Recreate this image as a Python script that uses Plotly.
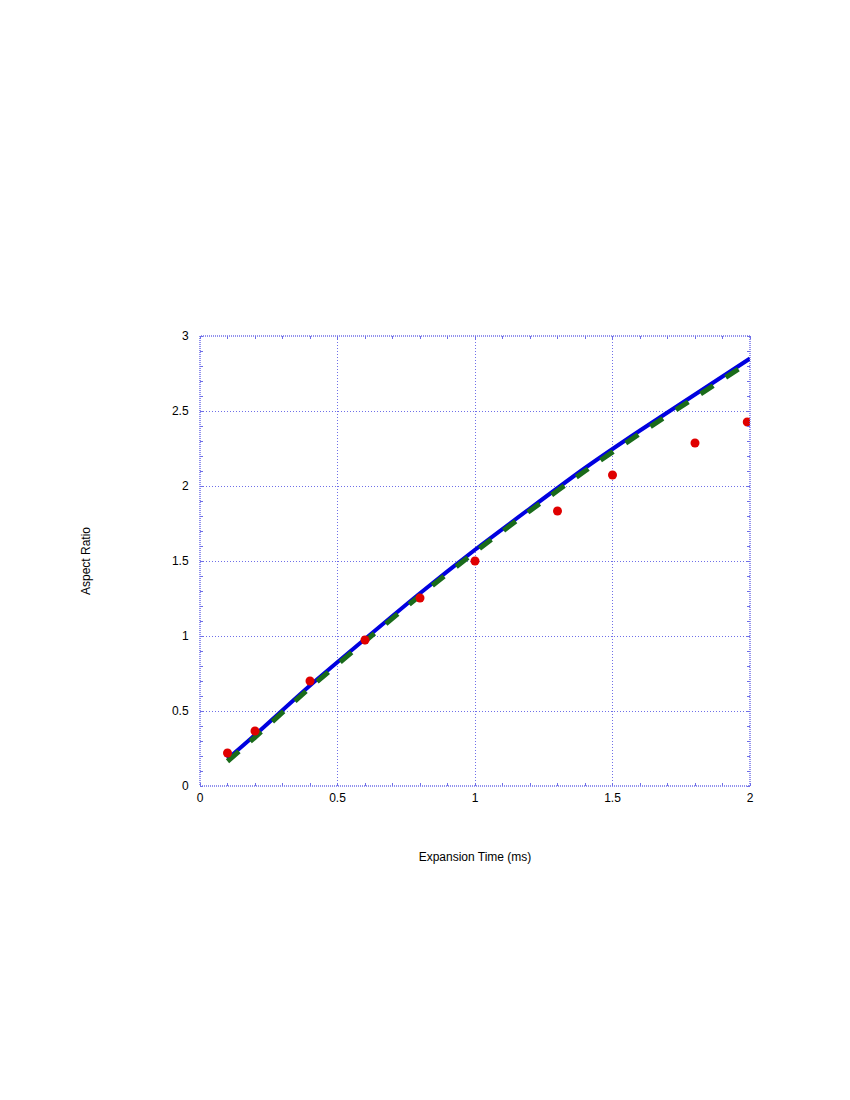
import plotly.graph_objects as go

# measured aspect ratio (red dots)
t_meas = [0.1, 0.2, 0.4, 0.6, 0.8, 1.0, 1.3, 1.5, 1.8, 1.99]
ar_meas = [0.22, 0.367, 0.70, 0.973, 1.253, 1.50, 1.833, 2.073, 2.287, 2.427]

# model curves
t_model = [0.1, 0.2, 0.4, 0.6, 0.8, 1.0, 1.2, 1.4, 1.6, 1.8, 2.0]
ar_blue = [0.18, 0.34, 0.67, 0.98, 1.285, 1.575, 1.85, 2.12, 2.37, 2.61, 2.85]
ar_green = [0.165, 0.325, 0.655, 0.965, 1.27, 1.56, 1.835, 2.10, 2.35, 2.59, 2.83]

grid_col = "#6f6fe8"
font = dict(family="Liberation Sans, Arial, sans-serif", size=12, color="black")

fig = go.Figure()
fig.add_trace(go.Scatter(x=t_model, y=ar_blue, mode="lines",
                         line=dict(color="#0000e0", width=4, shape="spline", smoothing=0.6)))
fig.add_trace(go.Scatter(x=t_model, y=ar_green, mode="lines",
                         line=dict(color="#1a6b1a", width=5, dash="dash", shape="spline", smoothing=0.6)))
fig.add_trace(go.Scatter(x=t_meas, y=ar_meas, mode="markers",
                         marker=dict(color="#e00000", size=9)))

axis_common = dict(showgrid=True, gridcolor=grid_col, griddash="1px,2px", gridwidth=1,
                   zeroline=False, showline=False, ticks="outside",
                   tickcolor="rgba(0,0,0,0)", tickfont=font,
                   minor=dict(dtick=0.1, ticks="inside", ticklen=3, tickcolor=grid_col,
                              showgrid=False),
                   mirror="allticks")

fig.update_xaxes(range=[0, 2], dtick=0.5, ticklen=1,
                 title=dict(text="Expansion Time (ms)", font=font, standoff=48),
                 **axis_common)
fig.update_yaxes(range=[0, 3], dtick=0.5, ticklen=8,
                 title=dict(text="Aspect Ratio", font=font, standoff=78),
                 **axis_common)

fig.add_shape(type="rect", xref="paper", yref="paper", x0=0, y0=0, x1=1, y1=1,
              line=dict(color=grid_col, width=1.5, dash="1px,1px"), layer="above")

fig.update_layout(width=850, height=1100, showlegend=False,
                  plot_bgcolor="white", paper_bgcolor="white", font=font,
                  margin=dict(l=192, r=108, t=328, b=322))

fig.write_html("out.html")
